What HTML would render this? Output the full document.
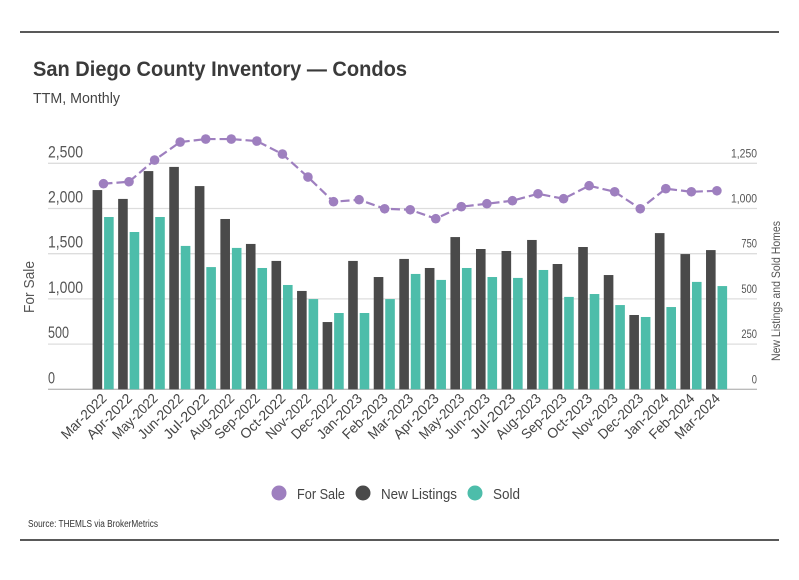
<!DOCTYPE html>
<html><head><meta charset="utf-8"><style>
body{margin:0;background:#fff;width:799px;height:575px;overflow:hidden;font-family:"Liberation Sans",sans-serif;}
svg text{font-family:"Liberation Sans",sans-serif;}
</style></head><body>
<svg id="chart" width="799" height="575">
<line x1="20" y1="32" x2="779" y2="32" stroke="#222" stroke-width="1.5"/>
<line x1="20" y1="540" x2="779" y2="540" stroke="#222" stroke-width="1.5"/>
<text x="33" y="76" font-size="21" font-weight="bold" fill="#3a3a3a" textLength="374" lengthAdjust="spacingAndGlyphs">San Diego County Inventory — Condos</text>
<text x="33" y="103" font-size="15" fill="#444" textLength="87" lengthAdjust="spacingAndGlyphs">TTM, Monthly</text>
<text transform="translate(34,287) rotate(-90)" text-anchor="middle" font-size="15" fill="#555" textLength="52" lengthAdjust="spacingAndGlyphs">For Sale</text>
<text transform="translate(780,291) rotate(-90)" text-anchor="middle" font-size="12" fill="#555" textLength="140" lengthAdjust="spacingAndGlyphs">New Listings and Sold Homes</text>
<g id="grid"></g><g id="bars"></g><g id="line"></g><g id="xlabels"></g>
<g>
<circle cx="279" cy="493" r="7.5" fill="#9e7fbf"/><text x="297" y="499" font-size="15" fill="#444" textLength="48" lengthAdjust="spacingAndGlyphs">For Sale</text>
<circle cx="363" cy="493" r="7.5" fill="#4a4a4a"/><text x="381" y="499" font-size="15" fill="#444" textLength="76" lengthAdjust="spacingAndGlyphs">New Listings</text>
<circle cx="475" cy="493" r="7.5" fill="#4dbdaa"/><text x="493" y="499" font-size="15" fill="#444" textLength="27" lengthAdjust="spacingAndGlyphs">Sold</text>
</g>
<text x="28" y="527" font-size="10" fill="#333" textLength="130" lengthAdjust="spacingAndGlyphs">Source:  THEMLS via BrokerMetrics</text>
</svg>
<script>
const categories=["Mar-2022","Apr-2022","May-2022","Jun-2022","Jul-2022","Aug-2022","Sep-2022","Oct-2022","Nov-2022","Dec-2022","Jan-2023","Feb-2023","Mar-2023","Apr-2023","May-2023","Jun-2023","Jul-2023","Aug-2023","Sep-2023","Oct-2023","Nov-2023","Dec-2023","Jan-2024","Feb-2024","Mar-2024"];
const forSale=[2274,2296,2536,2735,2768,2768,2746,2602,2348,2075,2097,1997,1986,1887,2020,2053,2086,2163,2108,2252,2185,1997,2219,2185,2196];
const newListings=[1102,1053,1207,1230,1124,942,804,710,544,372,710,621,721,671,842,776,765,826,693,787,632,411,864,748,770];
const sold=[953,870,953,793,676,782,671,577,499,422,422,499,638,605,671,621,616,660,511,527,466,400,455,594,571];
const leftTicks=[0,500,1000,1500,2000,2500];
const rightTicks=[0,250,500,750,1000,1250];
const NS="http://www.w3.org/2000/svg";
const y0=389.3, yTop=163.3;
const yL=v=>y0-(v/2500)*(y0-yTop);
const yR=v=>y0-(v/1250)*(y0-yTop);
const band=25.56, xStart=90.7;
const xc=i=>xStart+band*(i+0.5);
function mk(t,a,p){const e=document.createElementNS(NS,t);for(const k in a)e.setAttribute(k,a[k]);p.appendChild(e);return e;}
const grid=document.getElementById('grid');
leftTicks.forEach((t,i)=>{
 const l=mk('line',{x1:48,x2:757,y1:yL(t),y2:yL(t),stroke:i==0?'#bbb':'#ddd','stroke-width':1.3},grid);
 
 
 const s=t.toLocaleString('en-US');
 const tx=mk('text',{x:48,y:yL(t)-6,'font-size':17,fill:'#555',textLength:s.length*7,lengthAdjust:'spacingAndGlyphs'},grid);tx.textContent=s;
 
 
});
rightTicks.forEach(t=>{
 const s=t.toLocaleString('en-US');
 const tx=mk('text',{x:757,y:yR(t)-6,'font-size':12,fill:'#555','text-anchor':'end',textLength:s.length*5.2,lengthAdjust:'spacingAndGlyphs'},grid);tx.textContent=s;
 
 
});
const bars=document.getElementById('bars'), bw=9.6;
categories.forEach((c,i)=>{
 const x=xc(i);
 const b1=mk('rect',{x:x-10.9,y:yR(newListings[i]),width:bw,height:y0-yR(newListings[i]),fill:'#4a4a4a'},bars);
 
 
 const b2=mk('rect',{x:x+0.6,y:yR(sold[i]),width:bw,height:y0-yR(sold[i]),fill:'#4dbdaa'},bars);
 
 
 const tx=mk('text',{transform:`translate(${x+4},${y0+10}) rotate(-45)`,'text-anchor':'end','font-size':14,fill:'#444',textLength:c.length*7.2,lengthAdjust:'spacingAndGlyphs'},document.getElementById('xlabels'));
 tx.textContent=c;
 
 
});
const lg=document.getElementById('line');
const pl=mk('polyline',{points:forSale.map((v,i)=>xc(i)+','+yL(v)).join(' '),fill:'none',stroke:'#9e7fbf','stroke-width':2.2,'stroke-dasharray':'9,4'},lg);


forSale.forEach((v,i)=>{
 const c=mk('circle',{cx:xc(i),cy:yL(v),r:4.8,fill:'#9e7fbf'},lg);
 
 
});
</script>
</body></html>
